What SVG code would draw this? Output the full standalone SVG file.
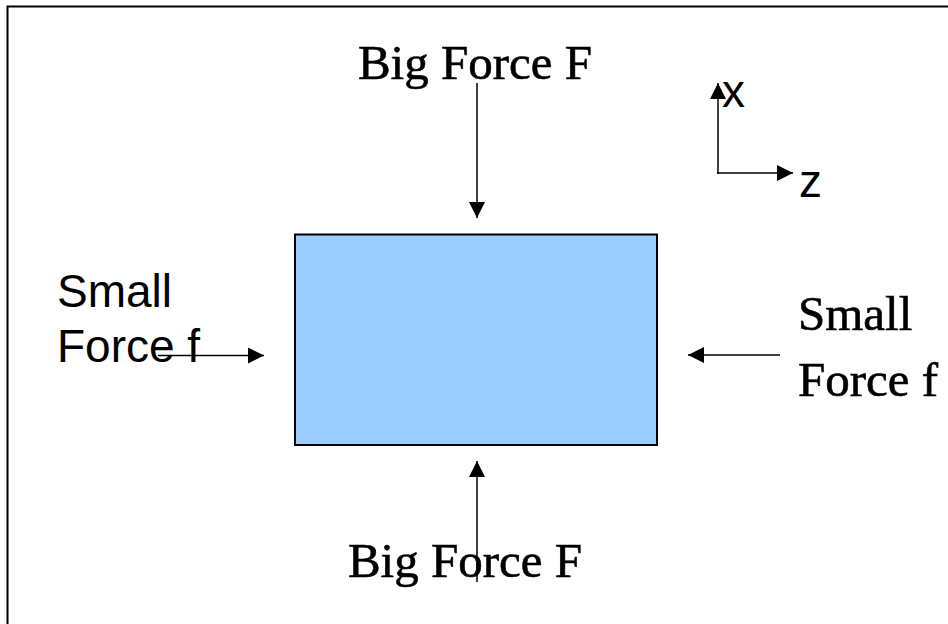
<svg xmlns="http://www.w3.org/2000/svg" width="948" height="624" viewBox="0 0 948 624">
<style>
.serif{font-family:"Liberation Serif","Times New Roman",serif;font-size:49px;fill:#000;stroke:#000;stroke-width:0.6}
.sans{font-family:"Liberation Sans",Arial,sans-serif;font-size:46px;fill:#000}
.conn{stroke:#000;stroke-width:1.5;fill:none;marker-end:url(#ah)}
</style>
<defs>
<marker id="ah" viewBox="0 0 10 10" refX="10" refY="5" markerWidth="16" markerHeight="16" markerUnits="userSpaceOnUse" orient="auto">
<path d="M0,0 L10,5 L0,10 z" fill="#000"/>
</marker>
</defs>
<rect x="7.5" y="6.5" width="960" height="640" fill="#fff" stroke="#000" stroke-width="2"/>
<g id="block">
<rect x="295" y="234.5" width="362" height="210.5" fill="#99CCFF" stroke="#000" stroke-width="2"/>
</g>
<g id="label-top"><text class="serif" x="475" y="79" text-anchor="middle">Big Force F</text></g>
<g id="label-bottom"><text class="serif" x="465" y="577" text-anchor="middle">Big Force F</text></g>
<g id="label-left"><text class="sans" x="57" y="307">Small</text><text class="sans" x="57" y="362">Force f</text></g>
<g id="label-right"><text class="serif" x="798" y="330">Small</text><text class="serif" x="798" y="396">Force f</text></g>
<g id="axes">
<text class="sans" x="722" y="107" font-size="42">x</text>
<text class="sans" x="799" y="197" font-size="42">z</text>
</g>
<g id="connectors">
<line class="conn" x1="477" y1="83" x2="477" y2="218"/>
<line class="conn" x1="477" y1="582" x2="477" y2="461"/>
<line class="conn" x1="158" y1="355.5" x2="264" y2="355.5"/>
<line class="conn" x1="780" y1="355" x2="688" y2="355"/>
<line class="conn" x1="718" y1="174" x2="718" y2="83"/>
<line class="conn" x1="717" y1="173" x2="793" y2="173"/>
</g>
</svg>
